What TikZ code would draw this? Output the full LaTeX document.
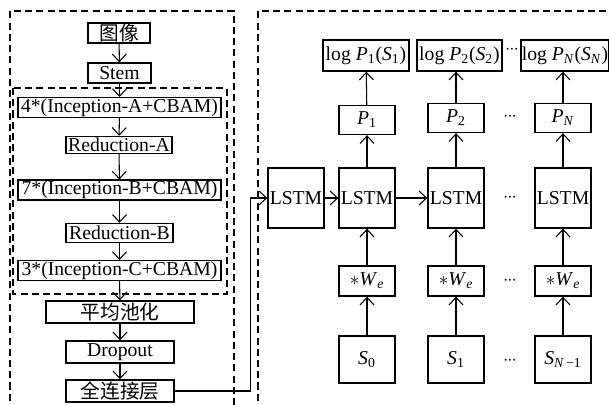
\documentclass[tikz,border=0pt]{standalone}
\usepackage{fontspec}
\setmainfont{Liberation Serif}
\newfontfamily\cjk{Noto Sans CJK SC}
\usetikzlibrary{arrows.meta}
\newcommand{\isub}[2]{\textit{#1}\textsubscript{#2}}

\begin{document}
\begin{tikzpicture}[x=0.02cm, y=-0.02cm,
    every node/.style={font=\fontsize{11.2}{13}\selectfont},
    block/.style={rectangle, draw, line width=0.8pt, inner sep=0.5pt, minimum height=0.4cm},
    wide/.style={block, minimum width=4.06cm, minimum height=0.35cm},
    cell/.style={block, minimum width=1.12cm},
    dots/.style={font=\fontsize{9}{9}\selectfont, inner sep=0pt},
    arrow/.style={line width=0.6pt, -{Straight Barb[length=1.5mm, width=2.8mm]}},
    frame/.style={line width=0.8pt, dash pattern=on 4pt off 2.4pt}
]
\useasboundingbox (0,0) rectangle (609,405);

% Frames
\draw[frame] (10,412) -- (10,11) -- (234,11) -- (234,412);
\draw[frame] (258,412) -- (258,11) -- (616,11);
\draw[frame] (13,88) rectangle (227,294);

% CNN encoder
\node[block, minimum width=1.24cm] (img)  at (119,33)  {\cjk 图像};
\node[block, minimum width=1.26cm] (stem) at (119.5,73) {Stem};
\node[wide] (incA) at (119.5,107.5) {4*(Inception-A+CBAM)};
\node[block, minimum width=2.12cm, minimum height=0.34cm] (redA) at (119,145) {Reduction-A};
\node[wide] (incB) at (119.5,190) {7*(Inception-B+CBAM)};
\node[block, minimum width=2.14cm, minimum height=0.38cm] (redB) at (119.5,233) {Reduction-B};
\node[wide, minimum height=0.38cm] (incC) at (119.5,270.5) {3*(Inception-C+CBAM)};
\node[block, minimum width=2.96cm, minimum height=0.44cm] (pool) at (120,312) {\cjk 平均池化};
\node[block, minimum width=2.16cm, minimum height=0.44cm] (drop) at (120,352) {Dropout};
\node[block, minimum width=2.16cm, minimum height=0.44cm] (fc)   at (120,391) {\cjk 全连接层};

\draw[arrow] (img) -- (stem);
\draw[arrow] (stem) -- (incA);
\draw[arrow] (incA) -- (redA);
\draw[arrow] (redA) -- (incB);
\draw[arrow] (incB) -- (redB);
\draw[arrow] (redB) -- (incC);
\draw[arrow] (incC) -- (pool);
\draw[arrow] (pool) -- (drop);
\draw[arrow] (drop) -- (fc);

% LSTM decoder
\node[cell, minimum height=1.2cm] (lstm0) at (296,198) {LSTM};
\node[cell, minimum height=1.2cm] (lstm1) at (367,198) {LSTM};
\node[cell, minimum height=1.2cm] (lstm2) at (456,198) {LSTM};
\node[cell, minimum height=1.2cm] (lstmN) at (563,198) {LSTM};

\node[cell, minimum height=0.58cm] (p1) at (367,120) {\isub{P}{1}};
\node[cell, minimum height=0.58cm] (p2) at (456,118) {\isub{P}{2}};
\node[cell, minimum height=0.58cm] (pN) at (563,118) {\isub{P}{\textit{N}}};

\node[block, minimum width=1.72cm, minimum height=0.62cm] (log1) at (366,55.5)   {log \isub{P}{1}(\isub{S}{1})};
\node[block, minimum width=1.70cm, minimum height=0.62cm] (log2) at (459.5,55.5) {log \isub{P}{2}(\isub{S}{2})};
\node[block, minimum width=1.72cm, minimum height=0.62cm] (logN) at (565,55.5)   {log \isub{P}{\textit{N}}(\isub{S}{\textit{N}})};

\node[cell, minimum height=0.6cm] (we1) at (367,281) {$*$\isub{W}{\textit{e}}};
\node[cell, minimum height=0.6cm] (we2) at (456,281) {$*$\isub{W}{\textit{e}}};
\node[cell, minimum height=0.6cm] (weN) at (563,281) {$*$\isub{W}{\textit{e}}};

\node[cell, minimum height=0.94cm] (s0) at (367,359.5) {\isub{S}{0}};
\node[cell, minimum height=0.94cm] (s1) at (456,359.5) {\isub{S}{1}};
\node[cell, minimum height=0.94cm] (sN) at (563,359.5) {\isub{S}{\textit{N}\,−1}};

\node[dots] (dLog)  at (512,51)  {·\kern-0.6pt·\kern-0.6pt·};
\node[dots] (dP)    at (510,118) {·\kern-0.6pt·\kern-0.6pt·};
\node[dots] (dLstm) at (510,199) {·\kern-0.6pt·\kern-0.6pt·};
\node[dots] (dWe)   at (510,282) {·\kern-0.6pt·\kern-0.6pt·};
\node[dots] (dS)    at (510,362) {·\kern-0.6pt·\kern-0.6pt·};

\draw[arrow] (fc.east) -- ++(76,0) |- (lstm0.west);
\draw[arrow] (lstm0) -- (lstm1);
\draw[arrow] (lstm1) -- (lstm2);

\draw[arrow] (s0) -- (we1);
\draw[arrow] (we1) -- (lstm1);
\draw[arrow] (lstm1) -- (p1);
\draw[arrow] (p1) -- (log1);
\draw[arrow] (s1) -- (we2);
\draw[arrow] (we2) -- (lstm2);
\draw[arrow] (lstm2) -- (p2);
\draw[arrow] (p2) -- (log2.south -| p2);
\draw[arrow] (sN) -- (weN);
\draw[arrow] (weN) -- (lstmN);
\draw[arrow] (lstmN) -- (pN);
\draw[arrow] (pN) -- (logN.south -| pN);

\end{tikzpicture}
\end{document}
